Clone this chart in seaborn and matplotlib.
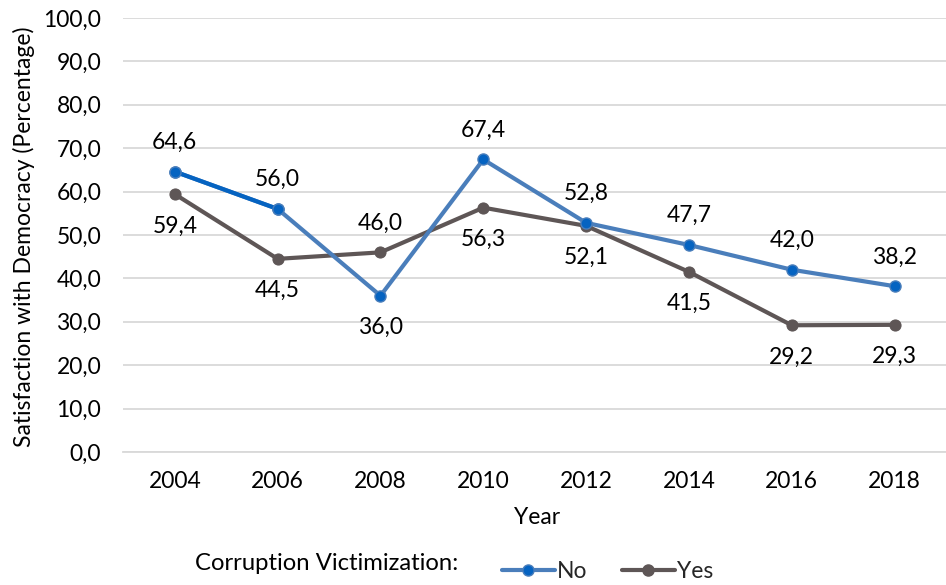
import matplotlib
matplotlib.use("Agg")
import matplotlib.pyplot as plt
import seaborn as sns
import pandas as pd
from matplotlib.lines import Line2D

years = [2004, 2006, 2008, 2010, 2012, 2014, 2016, 2018]
no_vals = [64.6, 56.0, 36.0, 67.4, 52.8, 47.7, 42.0, 38.2]
yes_vals = [59.4, 44.5, 46.0, 56.3, 52.1, 41.5, 29.2, 29.3]
series_names = ["No", "Yes"]
y_ticks = [0, 10, 20, 30, 40, 50, 60, 70, 80, 90, 100]

sns.set_theme(style="white")
plt.rcParams['font.family'] = ['Lato', 'DejaVu Sans']

df = pd.DataFrame({
    "Year": years * 2,
    "Value": no_vals + yes_vals,
    "Series": ["No"] * len(years) + ["Yes"] * len(years),
})

blue = "#4A7EBB"
dark_blue = "#0563C1"
gray = "#5E5656"
FS = 16.5

fig = plt.figure(figsize=(9.46, 5.85), dpi=100)
ax = fig.add_axes([0.1305, 0.2274, 0.8695, 0.7418])

sns.lineplot(data=df[df.Series == "No"], x="Year", y="Value", color=blue, lw=3,
             marker="o", markersize=8, markerfacecolor=dark_blue, markeredgecolor=blue,
             markeredgewidth=1, ax=ax, zorder=3, legend=False)
first = df[(df.Series == "No") & (df.Year <= 2006)]
sns.lineplot(data=first, x="Year", y="Value", color=dark_blue, lw=3,
             marker="o", markersize=8, markerfacecolor=dark_blue, markeredgecolor=blue,
             markeredgewidth=1, ax=ax, zorder=4, legend=False)
sns.lineplot(data=df[df.Series == "Yes"], x="Year", y="Value", color=gray, lw=3,
             marker="o", markersize=8, markerfacecolor=gray, markeredgecolor=gray,
             ax=ax, zorder=2, legend=False)

def label(y, v, above):
    off = 21 if above else -23
    ax.annotate(f"{v:.1f}".replace(".", ","), (y, v), xytext=(0, off), textcoords="offset points",
                ha="center", va="center", fontsize=FS, color="#000000")

for i, (y, v) in enumerate(zip(years, no_vals)):
    label(y, v, v >= yes_vals[i])
for i, (y, v) in enumerate(zip(years, yes_vals)):
    label(y, v, v > no_vals[i])

ax.set_xlim(2003, 2019)
ax.set_ylim(0, 100)
ax.set_xticks(years)
ax.set_xticklabels([str(y) for y in years], fontsize=FS)
ax.set_yticks(y_ticks)
ax.set_yticklabels([f"{t:.1f}".replace(".", ",") for t in y_ticks], fontsize=FS)
ax.tick_params(axis="x", length=0, pad=14, colors="#000000")
ax.tick_params(axis="y", length=0, pad=16, colors="#000000")
ax.grid(axis="y", color="#D9D9D9", lw=1.3)
ax.set_axisbelow(True)
for s in ["top", "right", "left"]:
    ax.spines[s].set_visible(False)
ax.spines["bottom"].set_color("#D9D9D9")
ax.spines["bottom"].set_linewidth(1.3)
ax.set_xlabel("")
ax.set_ylabel("")
fig.text(537 / 946, 1 - 518 / 585, "Year", fontsize=FS, ha="center", va="center", color="#000000")
fig.text(24 / 946, 1 - 237 / 585, "Satisfaction with Democracy (Percentage)", fontsize=FS,
         rotation=90, ha="center", va="center", color="#000000")

fig.text(195 / 946, 1 - 563 / 585, "Corruption Victimization:", fontsize=17.2, color="#000000", va="center")
handles = [
    Line2D([], [], color=blue, lw=3, marker="o", markersize=8, markerfacecolor=dark_blue, markeredgecolor=blue),
    Line2D([], [], color=gray, lw=3, marker="o", markersize=8, markerfacecolor=gray, markeredgecolor=gray),
]
fig.legend(handles, series_names, loc="center left", bbox_to_anchor=(502 / 946, 1 - 572 / 585), ncol=2,
           frameon=False, fontsize=FS, handlelength=2.3, handletextpad=0.1, columnspacing=1.5,
           borderpad=0, borderaxespad=0)

fig.savefig("out.png", dpi=100)
